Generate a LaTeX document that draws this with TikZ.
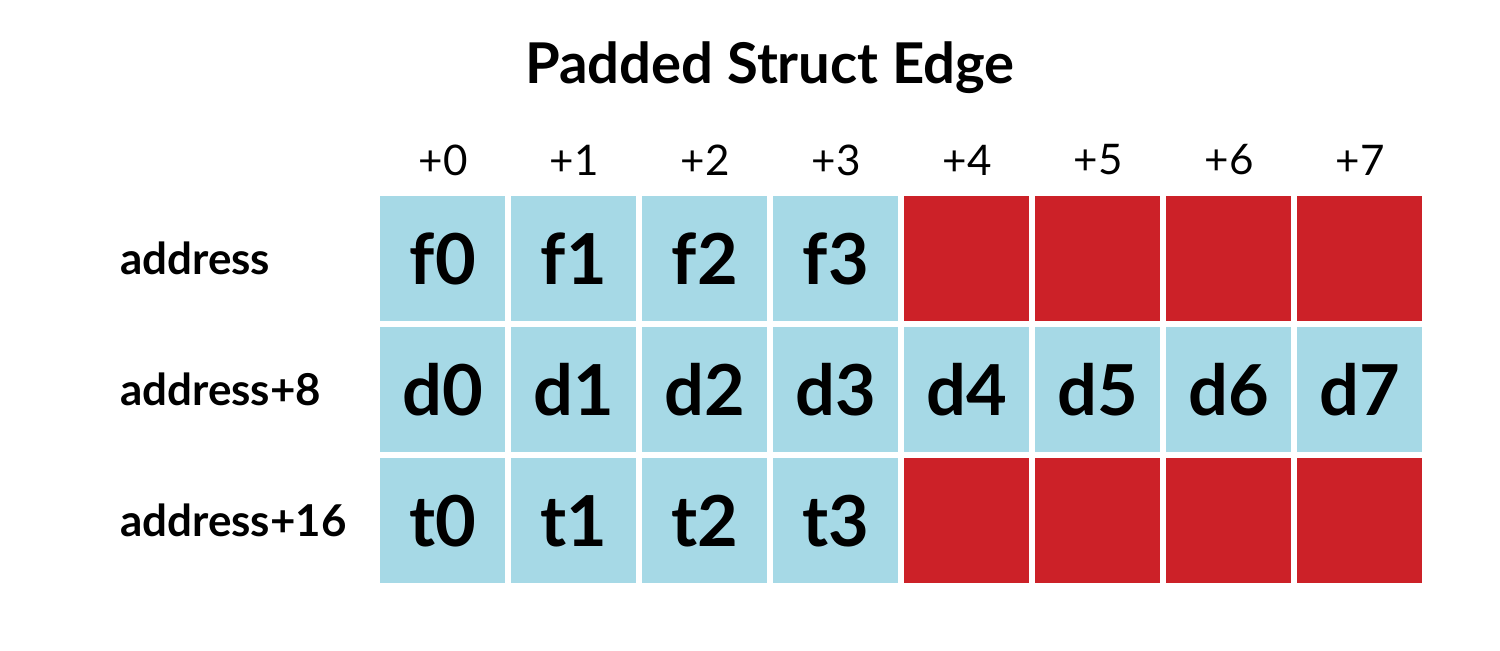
\documentclass[tikz,border=0pt]{standalone}
\usepackage{fontspec}
\setmainfont{Lato}
\usetikzlibrary{positioning}
\definecolor{fieldblue}{HTML}{A6D9E6}
\definecolor{padred}{HTML}{CC2128}

\begin{document}
\begin{tikzpicture}[x=0.02cm,y=-0.02cm,
  cell/.style={minimum size=2.5cm,inner sep=0pt,anchor=north west,
    font=\bfseries\fontsize{40}{40}\selectfont},
  field/.style={cell,fill=fieldblue},
  pad/.style={cell,fill=padred},
  offset/.style={font=\fontsize{24}{24}\selectfont},
  rowlabel/.style={anchor=west,font=\bfseries\fontsize{25}{25}\selectfont}]
\useasboundingbox (0,0) rectangle (1500,650);
\node[font=\bfseries\fontsize{32}{32}\selectfont] (title) at (770,68) {Padded Struct Edge};
% byte offsets
\foreach \i in {0,...,7}
  \node[offset] (off\i) at (443+131*\i,160) {+\i};
% rows
\foreach \i in {0,...,3} {
  \node[field] (f\i) at (380+131*\i,196) {f\i};
  \node[field] (t\i) at (380+131*\i,458) {t\i};
}
\foreach \i in {4,...,7} {
  \node[pad] (fpad\i) at (380+131*\i,196) {};
  \node[pad] (tpad\i) at (380+131*\i,458) {};
}
\foreach \i in {0,...,7}
  \node[field] (d\i) at (380+131*\i,327) {d\i};
% row labels
\node[rowlabel] (addr) at (114,258) {address};
\node[rowlabel] (addr8) at (114,389) {address+8};
\node[rowlabel] (addr16) at (114,520) {address+16};
\end{tikzpicture}
\end{document}
